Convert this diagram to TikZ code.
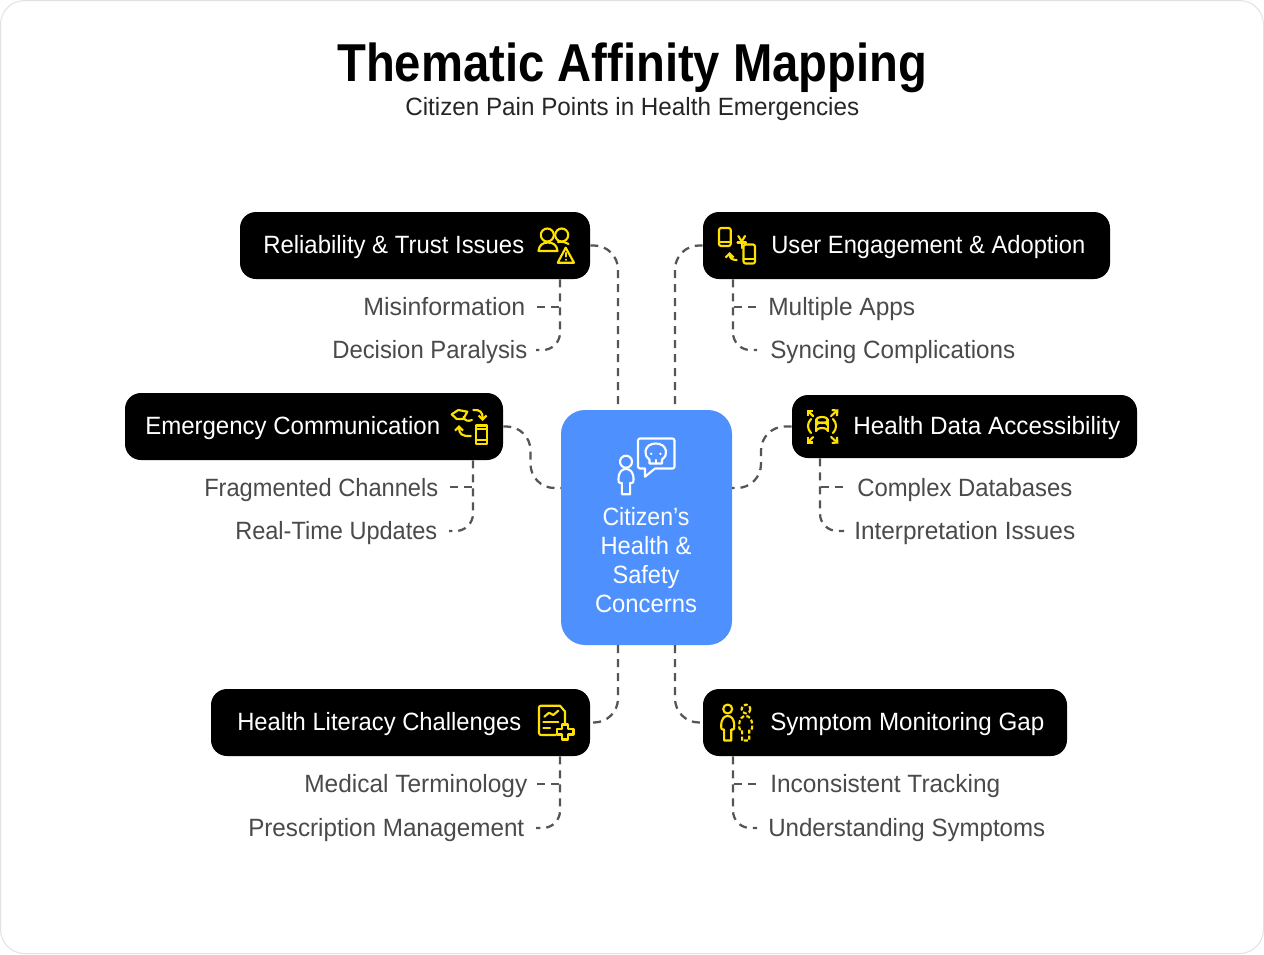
\documentclass[tikz,border=0pt]{standalone}
\usepackage{fontspec}
\usepackage{graphicx}
\setmainfont{Liberation Sans}
\usetikzlibrary{arrows.meta}
\definecolor{ylw}{HTML}{FFE100}
\definecolor{cblue}{HTML}{4D90FE}
\definecolor{itemgray}{HTML}{4A4A4A}
\definecolor{linegray}{HTML}{555555}
\definecolor{framegray}{HTML}{E2E2E2}
\newcommand{\fw}[2]{\resizebox{\dimexpr#1pt*3/4\relax}{\height}{#2}}
\newcommand{\persongeom}[4]{% cx, top, half width, bottom
  (#1-0.55*#3,#4) -- (#1-0.55*#3,#2+0.55*#4-0.55*#2) -- (#1-0.8*#3,#2+0.55*#4-0.55*#2)
  .. controls (#1-#3,#2+0.55*#4-0.55*#2) and (#1-#3,#2+0.5*#4-0.5*#2) .. (#1-#3,#2+0.4*#4-0.4*#2)
  .. controls (#1-#3,#2+0.1*#4-0.1*#2) and (#1-0.5*#3,#2) .. (#1,#2)
  .. controls (#1+0.5*#3,#2) and (#1+#3,#2+0.1*#4-0.1*#2) .. (#1+#3,#2+0.4*#4-0.4*#2)
  .. controls (#1+#3,#2+0.5*#4-0.5*#2) and (#1+#3,#2+0.55*#4-0.55*#2) .. (#1+0.8*#3,#2+0.55*#4-0.55*#2)
  -- (#1+0.55*#3,#2+0.55*#4-0.55*#2) -- (#1+0.55*#3,#4) -- cycle}
\tikzset{
  darkbox/.style={fill=black,rounded corners=12pt,inner sep=0pt},
  centerbox/.style={fill=cblue,rounded corners=18pt,inner sep=0pt,minimum width=128.25pt,minimum height=176.25pt},
  boxlabel/.style={anchor=base west,inner sep=0pt,text=white,font=\fontsize{18.75pt}{22pt}\selectfont},
  itemlabel/.style={anchor=base west,inner sep=0pt,text=itemgray,font=\fontsize{18.75pt}{22pt}\selectfont},
  centerlabel/.style={anchor=base,inner sep=0pt,text=white,font=\fontsize{18.75pt}{22pt}\selectfont},
  conn/.style={draw=linegray,line width=1.7pt,dash pattern=on 6pt off 4.5pt},
  mainconn/.style={conn,rounded corners=18pt},
  subconn/.style={conn,rounded corners=13pt},
  icon/.style={draw=ylw,line width=1.6pt,line join=round,line cap=round},
  whiteicon/.style={draw=white,line width=1.6pt,line join=round,line cap=round},
  tip/.style={-{Straight Barb[length=3pt,width=6pt]}},
}
\begin{document}
\begin{tikzpicture}[x=0.75pt,y=-0.75pt]
\useasboundingbox (0,0) rectangle (1264,954);
\path[fill=white,draw=framegray,line width=0.75pt,rounded corners=18pt] (0.5,0.5) rectangle (1263.5,953.5);

% titles
\node[anchor=base west,inner sep=0pt,font=\fontsize{40pt}{46pt}\selectfont\bfseries] (title) at (337,81) {\fw{590}{Thematic Affinity Mapping}};
\node[anchor=base west,inner sep=0pt,text=black!85,font=\fontsize{18.75pt}{22pt}\selectfont] (subtitle) at (405,115) {\fw{454}{Citizen Pain Points in Health Emergencies}};

% boxes
\node[centerbox] (c) at (646.5,527.5) {};
\node[darkbox,minimum width=262.5pt,minimum height=50.25pt] (rel) at (415,245.5) {};
\node[darkbox,minimum width=305.25pt,minimum height=50.25pt] (usr) at (906.5,245.5) {};
\node[darkbox,minimum width=283.5pt,minimum height=50.25pt] (emg) at (314,426.5) {};
\node[darkbox,minimum width=258.75pt,minimum height=47.25pt] (hda) at (964.5,426.5) {};
\node[darkbox,minimum width=284.25pt,minimum height=50.25pt] (lit) at (400.5,722.5) {};
\node[darkbox,minimum width=273pt,minimum height=50.25pt] (sym) at (885,722.5) {};

% box labels
\node[boxlabel] (relt) at (263,253) {\fw{261}{Reliability \& Trust Issues}};
\node[boxlabel] (usrt) at (771,253) {\fw{314}{User Engagement \& Adoption}};
\node[boxlabel] (emgt) at (145,434) {\fw{295}{Emergency Communication}};
\node[boxlabel] (hdat) at (853,434) {\fw{267}{Health Data Accessibility}};
\node[boxlabel] (litt) at (237,730) {\fw{284}{Health Literacy Challenges}};
\node[boxlabel] (symt) at (770,730) {\fw{274}{Symptom Monitoring Gap}};

% centre label
\node[centerlabel] (c1) at (646,525) {\fw{87}{Citizen's}};
\node[centerlabel] (c2) at (646,554) {\fw{91}{Health \&}};
\node[centerlabel] (c3) at (646,583) {\fw{67}{Safety}};
\node[centerlabel] (c4) at (646,612) {\fw{102}{Concerns}};

% items
\node[itemlabel] (i1) at (363,315) {\fw{162}{Misinformation}};
\node[itemlabel] (i2) at (332,358) {\fw{195}{Decision Paralysis}};
\node[itemlabel] (i3) at (768,315) {\fw{147}{Multiple Apps}};
\node[itemlabel] (i4) at (770,358) {\fw{245}{Syncing Complications}};
\node[itemlabel] (i5) at (204,496) {\fw{234}{Fragmented Channels}};
\node[itemlabel] (i6) at (235,539) {\fw{202}{Real-Time Updates}};
\node[itemlabel] (i7) at (857,496) {\fw{215}{Complex Databases}};
\node[itemlabel] (i8) at (854,539) {\fw{221}{Interpretation Issues}};
\node[itemlabel] (i9) at (304,792) {\fw{223}{Medical Terminology}};
\node[itemlabel] (i10) at (248,836) {\fw{276}{Prescription Management}};
\node[itemlabel] (i11) at (770,792) {\fw{230}{Inconsistent Tracking}};
\node[itemlabel] (i12) at (768,836) {\fw{277}{Understanding Symptoms}};

% connector anchors
\coordinate (cTL) at (618,410); \coordinate (cTR) at (675,410);
\coordinate (cBL) at (618,645); \coordinate (cBR) at (675,645);
\coordinate (cWu) at (561,488); \coordinate (cEu) at (732,488);
\coordinate (mLa) at (530.5,426.5); \coordinate (mLb) at (530.5,488);
\coordinate (mRa) at (761,426.5); \coordinate (mRb) at (761,488);

% main connectors
\draw[mainconn] (rel.east) -| (cTL);
\draw[mainconn] (usr.west) -| (cTR);
\draw[mainconn] (emg.east) -- (mLa) -- (mLb) -- (cWu);
\draw[mainconn] (hda.west) -- (mRa) -- (mRb) -- (cEu);
\draw[mainconn] (cBL) |- (lit.east);
\draw[mainconn] (cBR) |- (sym.west);

% sub connectors
\foreach \bx/\x/\dx/\yt/\ya/\yb in {rel/560/-1/279/307/350, usr/733/1/279/307/350, emg/473/-1/460/487/531, hda/820/1/458/487/531, lit/560/-1/756/784/828, sym/733/1/756/784/828}{
  \coordinate (t\bx) at (\bx.south -| \x,0);
  \coordinate (a\bx) at (\x+\dx*23,\ya);
  \coordinate (b\bx) at (\x+\dx*24,\yb);
  \coordinate (n\bx) at (\x,\ya);
  \draw[subconn] (t\bx) |- (b\bx);
  \draw[conn] (a\bx) -- (n\bx);
}

% --- icon: people + warning
\draw[icon] (547.3,235) circle (6.5);
\draw[icon] (561.7,235) circle (6.5);
\draw[icon] (538.5,251) .. controls (539,245) and (543,242.5) .. (548,242.5) .. controls (553,242.5) and (557,245) .. (557.5,251) -- cycle;
\draw[icon] (558,242) .. controls (563,241.5) and (566,242) .. (568.5,244);
\draw[icon] (565.7,247.7) -- (557.7,262.7) -- (574,262.7) -- cycle;
\draw[icon,line width=1.5pt] (565.7,252.8) -- (565.7,256.5);
\draw[icon,line width=1.5pt] (565.7,259.6) -- (565.7,259.9);

% --- icon: phones + yen
\draw[icon] (719,230) arc[start angle=180,end angle=270,radius=2] -- (728.7,228) arc[start angle=270,end angle=360,radius=2] -- (730.7,244) arc[start angle=0,end angle=90,radius=2] -- (721,246) arc[start angle=90,end angle=180,radius=2] -- cycle;
\draw[icon] (719,241.7) -- (730.7,241.7);
\draw[icon] (743.5,246.5) arc[start angle=180,end angle=270,radius=2] -- (753,244.5) arc[start angle=270,end angle=360,radius=2] -- (755,261.5) arc[start angle=0,end angle=90,radius=2] -- (745.5,263.5) arc[start angle=90,end angle=180,radius=2] -- cycle;
\draw[icon] (743.5,259.3) -- (755,259.3);
\draw[icon] (738.3,236) -- (741.7,241.5) -- (745,236);
\draw[icon] (741.7,241.5) -- (741.7,248);
\draw[icon] (737.5,242.5) -- (746,242.5);
\draw[icon,tip] (736.7,260) .. controls (732,260) and (729.5,258) .. (729.5,252);

% --- icon: emergency communication
\draw[icon] (451.7,414.3) -- (458.3,410) -- (467.3,411.7) -- (463.3,419) -- (456.7,419) -- cycle;
\draw[icon] (463.5,417) .. controls (465,421) and (468,421.5) .. (472,420);
\draw[icon,tip] (473.3,410) .. controls (480,409.5) and (482.7,412) .. (482.7,421);
\draw[icon,tip] (470.7,436) .. controls (462,436.5) and (459,434) .. (459,425);
\draw[icon] (475.7,425.5) rectangle (486.7,444);
\draw[icon] (475.7,429.3) -- (486.7,429.3);
\draw[icon] (475.7,440) -- (486.7,440);

% --- icon: database + arrows
\draw[icon] (822,420) ellipse (6 and 3);
\draw[icon] (816,420) -- (816,431);
\draw[icon] (828,420) -- (828,431);
\draw[icon] (816,431) arc[start angle=180,end angle=360,x radius=6,y radius=3];
\draw[icon] (816,425.5) arc[start angle=180,end angle=360,x radius=6,y radius=3];
\draw[icon] (811,419) .. controls (807,423) and (807,429) .. (811,433);
\draw[icon] (833,419) .. controls (837,423) and (837,429) .. (833,433);
\foreach \sx/\sy/\ex/\ey in {813/416/806.5/409.5, 831/416/838.5/409.5, 813/437/806.5/443.5, 831/437/838.5/443.5}{
  \draw[icon,tip] (\sx,\sy) -- (\ex,\ey);
}

% --- icon: document + plus
\draw[icon] (555.7,735) -- (541,735) arc[start angle=90,end angle=180,radius=2] -- (539,707.7) arc[start angle=180,end angle=270,radius=2] -- (560,705.7) -- (565,711.5) -- (565,723);
\draw[icon] (544.3,716.7) -- (549,712.7) -- (553.3,715) -- (558.3,710.7);
\draw[icon] (543.3,721.7) -- (558.3,721.7);
\draw[icon] (543.3,728.3) -- (550,728.3);
\draw[icon] (562,724.5) -- (568,724.5) -- (568,729) -- (573.5,729) -- (573.5,734.5) -- (568,734.5) -- (568,739.5) -- (562,739.5) -- (562,734.5) -- (557,734.5) -- (557,729) -- (562,729) -- cycle;

% --- icon: two persons
\draw[icon] (727.7,709) circle (4.5);
\draw[icon] \persongeom{727.7}{716}{6.5}{740.5};
\draw[icon,dash pattern=on 3pt off 1.6pt,line cap=butt] (746,709) circle (4.5);
\draw[icon,dash pattern=on 3pt off 1.6pt,line cap=butt] \persongeom{745.7}{716}{6.5}{740.5};

% --- icon: centre, person + skull bubble
\draw[whiteicon] (640,438.5) -- (672.5,438.5) arc[start angle=270,end angle=360,radius=2] -- (674.5,466.5) arc[start angle=0,end angle=90,radius=2] -- (655,468.5) -- (645,476.7) -- (645,468.5) -- (640,468.5) arc[start angle=90,end angle=180,radius=2] -- (638,440.5) arc[start angle=180,end angle=270,radius=2] -- cycle;
\draw[whiteicon] (649.5,463.5) -- (662,463.5) -- (662,459.5) .. controls (665.5,457) and (666.5,454) .. (666,451) .. controls (665,446) and (661,443.5) .. (655.8,443.5) .. controls (650.5,443.5) and (646.5,446) .. (645.5,451) .. controls (645,454) and (646,457) .. (649.5,459.5) -- cycle;
\draw[whiteicon] (655.8,460) -- (655.8,463.5);
\fill[white] (651.2,453.8) circle (1.3);
\fill[white] (660.4,453.8) circle (1.3);
\draw[whiteicon] (626,461.7) circle (6);
\draw[whiteicon] \persongeom{626}{469}{7.5}{494.3};
\end{tikzpicture}
\end{document}
